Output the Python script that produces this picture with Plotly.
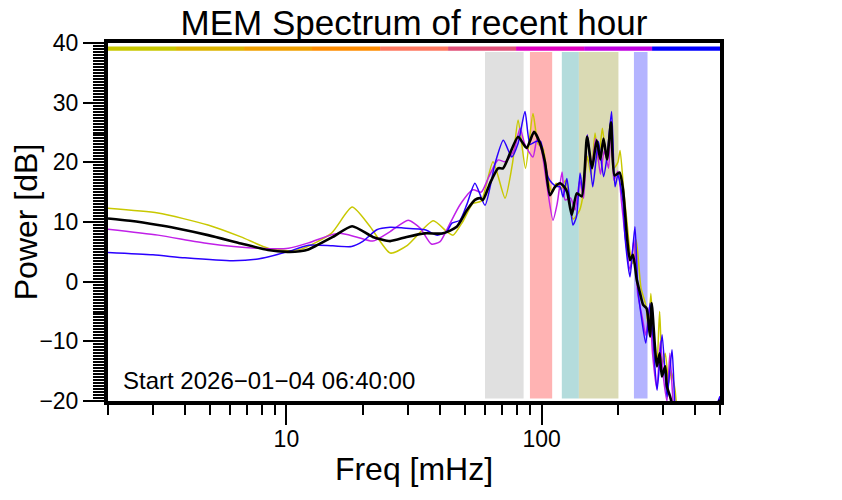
import plotly.graph_objects as go

# ---------------- data ----------------
F_YEL = [2.0, 3.14, 4.93, 6.64, 8.47, 10.1, 11.5, 15.0, 18.1, 21.3, 25.5, 29.8, 37.6, 42.5, 45.0, 49.0,
         53.8, 58.0, 64.5, 71.9, 77.0, 80.9, 86.5, 92.5, 97.0, 101.0, 106.0, 110.0, 114.0, 119.0, 124.0,
         129.0, 133.0, 141.0, 146.0, 151.0, 156.0, 162.0, 167.0, 173.0, 179.0, 186.0, 192.0, 199.0, 203.0,
         210.0, 216.0, 222.0, 228.0, 235.0, 245.0, 256.0, 262.0, 268.0, 275.0, 283.0, 290.0, 297.0, 305.0,
         315.0, 322.0, 333.0, 345.0, 470.0, 490.0, 500.0]
P_YEL = [12.3, 11.5, 9.5, 7.5, 5.6, 5.2, 5.5, 8.1, 12.5, 9.2, 4.8, 6.1, 10.2, 8.4, 7.8, 10.0,
         13.1, 13.5, 20.1, 14.0, 20.0, 27.1, 19.0, 28.2, 23.0, 22.5, 17.0, 15.0, 16.5, 15.5, 17.0,
         13.0, 10.5, 12.0, 15.0, 21.0, 18.0, 24.9, 20.0, 25.7, 21.0, 24.0, 19.0, 20.0, 22.0,
         15.0, 10.0, 5.0, 3.0, 7.0, -1.0, -4.0, -8.0, -2.0, -10.0, -14.0, -5.0, -14.0, -12.0,
         -17.0, -15.0, -18.0, -22.0, -25.0, -21.0, -20.0]

F_MAG = [2.0, 3.14, 4.93, 7.74, 10.2, 12.2, 14.9, 16.2, 18.8, 21.8, 25.5, 30.0, 33.4, 37.0, 40.0, 43.8,
         47.9, 53.8, 58.0, 62.0, 67.5, 72.0, 78.0, 82.3, 86.0, 92.5, 96.0, 100.0, 105.0, 110.8, 115.0,
         120.3, 123.6, 130.0, 135.2, 141.0, 146.0, 151.0, 157.0, 163.0, 170.0, 176.0, 183.0, 187.0, 192.0,
         199.0, 206.0, 212.0, 222.0, 230.0, 238.0, 248.0, 256.0, 265.0, 272.0, 283.0, 292.0, 300.0, 310.0,
         318.0, 330.0, 350.0, 470.0, 490.0, 500.0]
P_MAG = [8.8, 7.8, 6.4, 5.6, 5.6, 6.5, 7.8, 8.1, 7.5, 6.8, 8.4, 10.3, 9.0, 6.3, 6.7, 9.8,
         12.9, 15.4, 15.0, 17.5, 20.4, 20.1, 22.0, 25.7, 23.0, 20.9, 24.0, 22.0, 16.0, 10.3, 13.0,
         18.4, 13.7, 14.0, 12.0, 17.0, 14.0, 24.6, 19.0, 24.0, 18.0, 22.0, 19.0, 27.0, 17.0,
         18.5, 13.0, 8.0, 2.0, 7.0, -2.0, -6.0, -9.0, -4.0, -12.0, -18.0, -10.0, -16.0, -20.0,
         -12.0, -22.0, -28.0, -22.0, -20.3, -19.5]

F_BLU = [2.0, 3.0, 4.0, 6.18, 7.74, 10.1, 12.2, 15.2, 18.0, 20.0, 22.6, 25.5, 28.7, 34.9, 39.0, 42.5,
         44.5, 47.9, 51.0, 54.8, 60.0, 65.7, 70.8, 76.4, 80.9, 86.1, 90.1, 95.0, 99.0, 102.0, 106.0,
         110.0, 114.0, 118.1, 121.4, 125.6, 129.2, 132.7, 137.0, 141.5, 145.3, 151.0, 158.6, 167.0, 174.9,
         180.4, 188.0, 193.9, 199.1, 208.0, 212.2, 222.0, 232.1, 238.5, 246.0, 256.0, 266.0, 283.3, 296.5,
         310.0, 324.3, 333.3, 350.0, 470.0, 490.0, 500.0]
P_BLU = [4.9, 4.5, 4.0, 3.5, 3.8, 5.0, 6.1, 6.0, 5.9, 6.8, 8.7, 9.1, 9.0, 8.7, 7.8, 8.4,
         9.8, 10.3, 13.0, 16.5, 12.8, 19.8, 23.7, 20.9, 23.2, 28.5, 23.0, 23.5, 23.5, 21.0, 17.5,
         16.5, 16.0, 15.9, 14.2, 17.3, 13.1, 9.5, 10.9, 18.2, 14.8, 24.6, 15.9, 23.5, 17.6,
         20.9, 28.5, 15.9, 17.9, 13.7, 7.5, 0.8, 9.2, -1.4, -5.9, -10.3, -3.6, -18.2, -8.9,
         -19.3, -11.4, -21.0, -28.0, -22.0, -20.2, -19.2]

F_BLK = [2.0, 2.44, 3.14, 3.66, 4.93, 6.64, 8.47, 10.1, 11.3, 12.2, 15.2, 18.1, 21.8, 25.5, 29.6, 34.9,
         41.1, 46.5, 51.0, 54.8, 57.4, 58.9, 62.8, 67.5, 70.6, 75.2, 80.9, 87.3, 93.4, 98.6, 103.1,
         107.8, 112.9, 118.1, 122.0, 126.0, 131.2, 137.3, 143.6, 150.7, 157.6, 164.4, 169.9, 174.8, 180.4,
         187.1, 193.1, 202.0, 208.4, 216.0, 222.0, 228.0, 236.0, 243.0, 250.0, 258.0, 266.0, 270.0, 278.0,
         283.0, 290.0, 296.0, 305.0, 310.0, 319.0, 326.0, 340.0, 470.0, 490.0, 500.0]
P_BLK = [10.6, 10.2, 9.5, 9.0, 7.8, 6.4, 5.3, 5.0, 5.1, 5.4, 7.5, 9.3, 7.5, 6.8, 7.5, 8.1,
         8.1, 9.2, 12.0, 13.7, 14.0, 13.7, 16.5, 19.0, 19.0, 21.5, 24.3, 22.4, 25.1, 23.2, 20.0,
         14.5, 15.9, 16.5, 16.0, 15.0, 11.2, 14.8, 14.3, 24.3, 19.0, 23.7, 20.5, 24.0, 20.5,
         26.7, 17.8, 18.3, 15.5, 7.5, 3.6, 4.5, 0.3, -1.9, -3.9, -4.5, -9.2, -3.6, -10.9,
         -14.2, -12.0, -15.9, -14.2, -17.6, -19.3, -21.0, -25.0, -22.0, -20.5, -19.8]

# shaded frequency bands [mHz]
BAND_LO = [60, 90, 120, 140, 230]
BAND_HI = [85, 110, 140, 200, 260]
BAND_COLORS = ["#e0e0e0", "#ffb3b3", "#b4dcdc", "#dadab4", "#b4b4ff"]

# colour bar at top
BAR_EDGES = [2.0, 3.694, 6.823, 12.60, 23.28, 43.0, 79.4, 146.7, 270.9, 500.0]
BAR_COLORS = ["#c8c800", "#dcb400", "#f0a000", "#ff8c00", "#ff7860",
              "#e05078", "#e000c0", "#c000e0", "#0000ff"]

X_MAJOR = [10, 100]
X_MINOR = [2, 3, 4, 5, 6, 7, 8, 9, 20, 30, 40, 50, 60, 70, 80, 90, 200, 300, 400, 500]

FONT = "Liberation Sans, Arial, sans-serif"

fig = go.Figure()

series = [
    (F_YEL, P_YEL, "#c8c800", 1.5),
    (F_MAG, P_MAG, "#c020e8", 1.5),
    (F_BLU, P_BLU, "#2a00ff", 1.5),
    (F_BLK, P_BLK, "#000000", 2.6),
]
for fx, py, col, w in series:
    fig.add_trace(go.Scatter(x=fx, y=py, mode="lines",
                             line=dict(color=col, width=w, shape="spline", smoothing=0.6),
                             showlegend=False, hoverinfo="skip"))

shapes = []
for lo, hi, c in zip(BAND_LO, BAND_HI, BAND_COLORS):
    shapes.append(dict(type="rect", xref="x", yref="y", x0=lo, x1=hi, y0=-19.6, y1=38.5,
                       fillcolor=c, line=dict(width=0), layer="below"))
for i, c in enumerate(BAR_COLORS):
    shapes.append(dict(type="rect", xref="x", yref="y", x0=BAR_EDGES[i], x1=BAR_EDGES[i + 1],
                       y0=38.7, y1=39.4, fillcolor=c, line=dict(width=0), layer="above"))

fig.update_layout(
    width=842, height=500,
    margin=dict(l=100, r=130, t=35, b=107),
    paper_bgcolor="white", plot_bgcolor="white",
    font=dict(family=FONT, color="black", size=22),
    title=dict(text="MEM Spectrum of recent hour", xref="paper", x=0.5, xanchor="center",
               yref="container", y=0.971, yanchor="middle",
               font=dict(size=35, family=FONT, color="black")),
    shapes=shapes,
    annotations=[dict(text="Start 2026\u221201\u221204 06:40:00", xref="paper", yref="paper",
                      x=0.022, y=0.056, xanchor="left", yanchor="middle", showarrow=False,
                      font=dict(size=24, family=FONT, color="black"))],
)

fig.update_xaxes(type="log", range=[0.30103, 2.69897], automargin=False,
                 tickmode="array", tickvals=X_MAJOR, ticktext=[str(v) for v in X_MAJOR],
                 ticks="outside", ticklen=20, tickwidth=2, tickcolor="black",
                 ticklabelstandoff=-6,
                 minor=dict(tickmode="array", tickvals=X_MINOR, ticks="outside", ticklen=10,
                            tickwidth=2, tickcolor="black", showgrid=False),
                 showgrid=False, zeroline=False,
                 showline=True, linewidth=4, linecolor="black", mirror=True,
                 tickfont=dict(size=23),
                 title=dict(text="Freq [mHz]", font=dict(size=32), standoff=8))

fig.update_yaxes(range=[-20, 40], dtick=10, tick0=0, automargin=False,
                 ticks="outside", ticklen=21, tickwidth=2, tickcolor="black",
                 minor=dict(dtick=0.5, ticks="outside", ticklen=11, tickwidth=1.5, tickcolor="black",
                            showgrid=False),
                 showgrid=False, zeroline=False,
                 showline=True, linewidth=4, linecolor="black", mirror=True,
                 tickfont=dict(size=23),
                 title=dict(text="Power [dB]", font=dict(size=32), standoff=4))

fig.write_html("out.html")
